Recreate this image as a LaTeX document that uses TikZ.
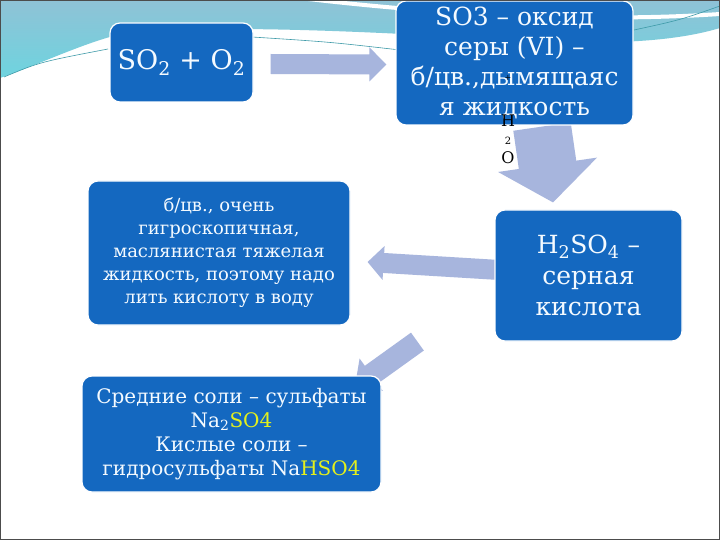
\documentclass[tikz,border=0pt]{standalone}
\usepackage{fontspec}
\setmainfont{DejaVu Serif}
\usetikzlibrary{calc,backgrounds}

\definecolor{boxblue}{HTML}{1468C0}
\definecolor{arrowfill}{HTML}{A7B5DD}
\definecolor{textwhite}{HTML}{F4FAFF}
\definecolor{saltyellow}{HTML}{E4F01C}
\definecolor{swooshtop}{HTML}{8FC2D6}
\definecolor{swooshbot}{HTML}{6ED4DF}
\definecolor{swooshline}{HTML}{3E9AA8}

% fat arrow: from, to, half width of body, half width of head, head length
\newcommand\fatarrow[5]{%
  \path (#1) coordinate (fa-s) (#2) coordinate (fa-t) ($(fa-t)!#5!(fa-s)$) coordinate (fa-h);
  \fill[arrowfill] ($(fa-s)!#3!90:(fa-t)$) -- ($(fa-h)!#3!-90:(fa-s)$) -- ($(fa-h)!#4!-90:(fa-s)$)
    -- (fa-t) -- ($(fa-h)!#4!90:(fa-s)$) -- ($(fa-h)!#3!90:(fa-s)$) -- ($(fa-s)!#3!-90:(fa-t)$) -- cycle;}

\tikzset{
  box/.style={draw=white, line width=1.2pt, fill=boxblue, rounded corners=10pt,
    text=textwhite, align=center, inner sep=3pt},
  big/.style={font=\fontsize{25}{30}\selectfont},
  small/.style={font=\fontsize{18}{23}\selectfont}
}

\begin{document}
\begin{tikzpicture}[x=1pt,y=-1pt]
\useasboundingbox (0,0) rectangle (720,540);
\begin{pgfonlayer}{background}
  \fill[white] (0,0) rectangle (720,540);
  \shade[top color=swooshtop, bottom color=swooshbot] (0,0) -- (0,78)
    .. controls (50,60) and (90,40) .. (130,32) .. controls (250,24) and (400,34) .. (520,40)
    .. controls (620,46) and (680,40) .. (720,28) -- (720,0) -- cycle;
  \draw[white, line width=4pt] (300,-2) .. controls (450,16) and (600,22) .. (720,14);
  \draw[swooshline, line width=0.6pt] (4,77) .. controls (40,62) .. (108,49);
  \draw[swooshline, line width=0.6pt] (252,37) .. controls (330,42) .. (400,50);
  \draw[swooshline, line width=0.6pt] (634,30) .. controls (680,20) .. (720,6);
\end{pgfonlayer}

\node[box, font=\fontsize{27}{30}\selectfont, minimum width=143pt, minimum height=79pt] (so2) at (181.5,62.5)
  {SO\textsubscript{2} + O\textsubscript{2}};
\node[box, big, minimum width=237pt, minimum height=124pt] (so3) at (514.5,63)
  {SO3 – оксид\\серы (VI) –\\б/цв.,дымящаяс\\я жидкость};
\node[box, font=\fontsize{25}{31}\selectfont, minimum width=187pt, minimum height=131pt] (acid) at (588.5,275.5)
  {H\textsubscript{2}SO\textsubscript{4} –\\серная\\кислота};
\node[box, small, minimum width=262pt, minimum height=144pt] (props) at (219,253)
  {б/цв., очень\\гигроскопичная,\\маслянистая тяжелая\\жидкость, поэтому надо\\лить кислоту в воду};
\node[box, font=\fontsize{20}{23.5}\selectfont, minimum width=299pt, minimum height=116pt] (salts) at (231.5,434)
  {Средние соли – сульфаты\\Na\textsubscript{2}\textcolor{saltyellow}{SO4}\\[1pt]Кислые соли –\\гидросульфаты Na\textcolor{saltyellow}{HSO4}};

% water above the big arrow
\node[font=\fontsize{8}{8}\selectfont, inner sep=0pt] (plus) at (508,78) {+};
\node[align=center, inner sep=0pt, font=\fontsize{16}{18.5}\selectfont] (h2o) at (508,139)
  {H\\{\fontsize{10}{18.5}\selectfont 2}\\O};

\begin{pgfonlayer}{background}
  \fatarrow{$(so2.east)+(17,1.5)$}{$(so3.west)+(-9,1.5)$}{10pt}{17pt}{17pt}
  \fatarrow{$(so3.south)+(27.5,1)$}{$(acid.north)+(-35.5,-7)$}{29pt}{50pt}{38pt}
  \fatarrow{$(acid.west)+(5,-5.5)$}{$(props.east)+(17,9)$}{10pt}{17pt}{16pt}
  \fatarrow{$(acid.south west)+(-77,0)$}{$(salts.north)+(123.5,11)$}{11pt}{20pt}{20pt}
\end{pgfonlayer}
\draw[gray!60!black, line width=1.4pt] (0.7,0.7) rectangle (719.3,539.3);
\end{tikzpicture}
\end{document}
